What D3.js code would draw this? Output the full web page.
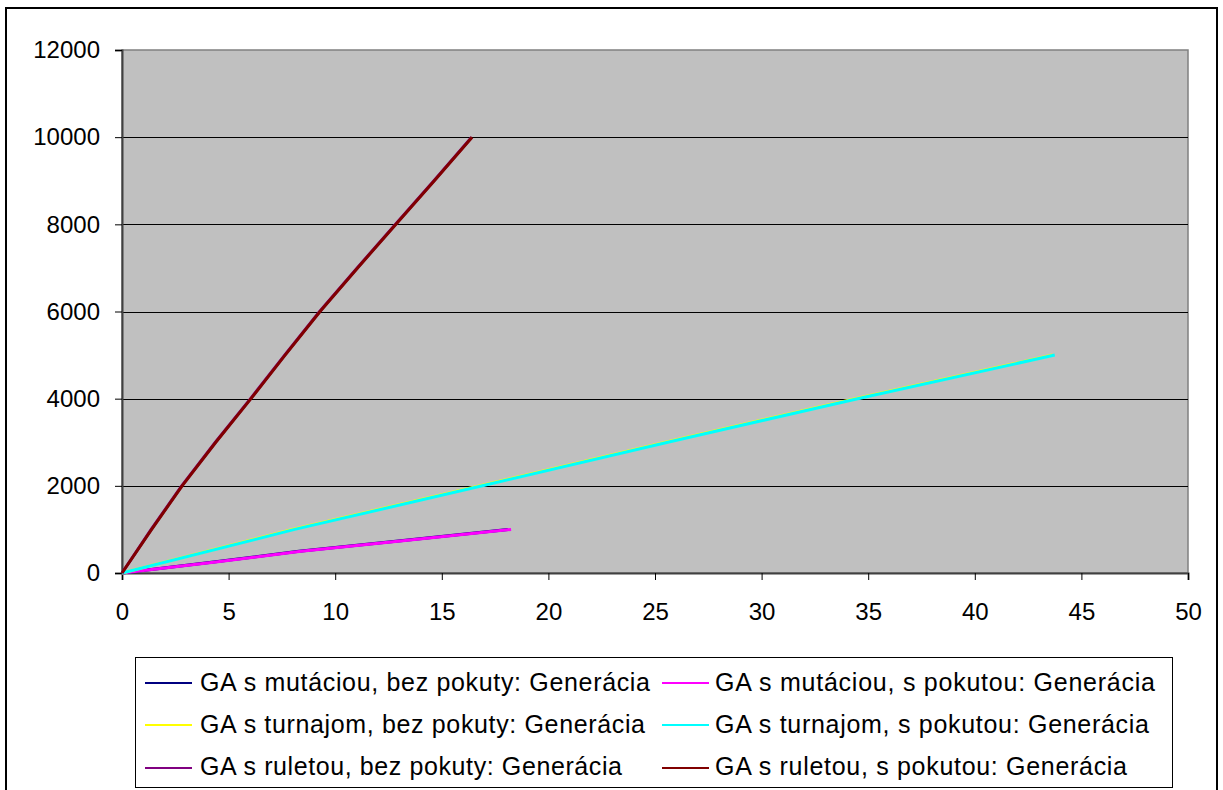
<!DOCTYPE html>
<html>
<head>
<meta charset="utf-8">
<script src="https://cdn.jsdelivr.net/npm/d3@7"></script>
<style>
  html, body { margin: 0; padding: 0; background: #fff; }
  svg { display: block; font-family: "Liberation Sans", Arial, sans-serif; }
</style>
</head>
<body>
<svg id="chart" width="1223" height="790"></svg>
<script>
// Time (x) vs. generation count (y) for each GA variant
const mutBez = [[0, 0], [4.3, 250], [8.3, 500], [13.3, 750], [18.1, 1000]];
const mutPok = [[0, 0], [4.4, 250], [8.4, 500], [13.4, 750], [18.25, 1000]];
const turBez = [[0, 0], [8.0, 1000], [16.8, 2000], [25.5, 3000], [34.4, 4000], [43.65, 5000]];
const turPok = [[0, 0], [8.1, 1000], [16.9, 2000], [25.6, 3000], [34.5, 4000], [43.75, 5000]];
const rulBez = [[0, 0], [1.37, 1000], [2.80, 2000], [4.38, 3000], [6.03, 4000], [7.63, 5000],
                [9.27, 6000], [11.03, 7000], [12.83, 8000], [14.63, 9000], [16.40, 10000]];
const rulPok = [[0, 0], [1.39, 1000], [2.82, 2000], [4.40, 3000], [6.05, 4000], [7.65, 5000],
                [9.29, 6000], [11.05, 7000], [12.85, 8000], [14.65, 9000], [16.42, 10000]];

const seriesNames = [
  "GA s mutáciou, bez pokuty: Generácia",
  "GA s mutáciou, s pokutou: Generácia",
  "GA s turnajom, bez pokuty: Generácia",
  "GA s turnajom, s pokutou: Generácia",
  "GA s ruletou, bez pokuty: Generácia",
  "GA s ruletou, s pokutou: Generácia"
];
const seriesData = [mutBez, mutPok, turBez, turPok, rulBez, rulPok];
const seriesColors = ["#000080", "#FF00FF", "#FFFF00", "#00FFFF", "#800080", "#800000"];

const xTicks = [0, 5, 10, 15, 20, 25, 30, 35, 40, 45, 50];
const yTicks = [0, 2000, 4000, 6000, 8000, 10000, 12000];

const svg = d3.select("#chart");

// outer chart frame
svg.append("rect")
  .attr("x", 6).attr("y", 8).attr("width", 1211).attr("height", 790)
  .attr("fill", "#fff").attr("stroke", "#000").attr("stroke-width", 2);

const plot = { left: 122, right: 1188, top: 50, bottom: 573 };

const x = d3.scaleLinear().domain([0, 50]).range([plot.left, plot.right]);
const y = d3.scaleLinear().domain([0, 12000]).range([plot.bottom, plot.top]);

// plot area background
svg.append("rect")
  .attr("x", plot.left).attr("y", plot.top)
  .attr("width", plot.right - plot.left).attr("height", plot.bottom - plot.top)
  .attr("fill", "#C0C0C0").attr("stroke", "#808080").attr("stroke-width", 1.5);

// horizontal gridlines
svg.append("g")
  .selectAll("line")
  .data(yTicks.filter(d => d > 0 && d < 12000))
  .join("line")
  .attr("x1", plot.left).attr("x2", plot.right)
  .attr("y1", d => Math.round(y(d)) + 0.5).attr("y2", d => Math.round(y(d)) + 0.5)
  .attr("stroke", "#000").attr("stroke-width", 1);

// axes
const yAxis = d3.axisLeft(y).tickValues(yTicks).tickSize(7).tickPadding(15).tickFormat(d3.format("d"));
const xAxis = d3.axisBottom(x).tickValues(xTicks).tickSize(7).tickPadding(23).tickFormat(d3.format("d"));

const gy = svg.append("g").attr("transform", `translate(${plot.left},0)`).call(yAxis);
const gx = svg.append("g").attr("transform", `translate(0,${plot.bottom})`).call(xAxis);

[gx, gy].forEach(g => {
  g.attr("font-size", 24).attr("font-family", "'Liberation Sans', Arial, sans-serif");
  g.select(".domain").attr("stroke", "#404040").attr("stroke-width", 2);
  g.selectAll(".tick line").attr("stroke", "#000").attr("stroke-width", 1);
  g.selectAll(".tick text").attr("fill", "#000");
});

// series lines
const line = d3.line().x(d => x(d[0])).y(d => y(d[1]));
svg.append("g")
  .selectAll("path")
  .data(seriesData)
  .join("path")
  .attr("d", line)
  .attr("fill", "none")
  .attr("stroke", (d, i) => seriesColors[i])
  .attr("stroke-width", 3)
  .attr("stroke-linejoin", "round");

// legend
const legend = svg.append("g");
legend.append("rect")
  .attr("x", 135.5).attr("y", 657.5).attr("width", 1037).attr("height", 130)
  .attr("fill", "#fff").attr("stroke", "#000").attr("stroke-width", 1);

const colX = [145, 662];
const textX = [200, 715];
const rowY = [683, 725, 768];
const baseY = [691, 733, 775];
// label line widths, in the order of seriesNames
const textW = [450, 440, 445, 434, 422, 412];
seriesNames.forEach((name, i) => {
  const c = i % 2, r = Math.floor(i / 2);
  legend.append("line")
    .attr("x1", colX[c]).attr("x2", colX[c] + 47)
    .attr("y1", rowY[r]).attr("y2", rowY[r])
    .attr("stroke", seriesColors[i]).attr("stroke-width", 2);
  legend.append("text")
    .attr("x", textX[c]).attr("y", baseY[r])
    .attr("font-size", 25).attr("fill", "#000")
    .attr("textLength", textW[i]).attr("lengthAdjust", "spacing")
    .text(name);
});
</script>
</body>
</html>
